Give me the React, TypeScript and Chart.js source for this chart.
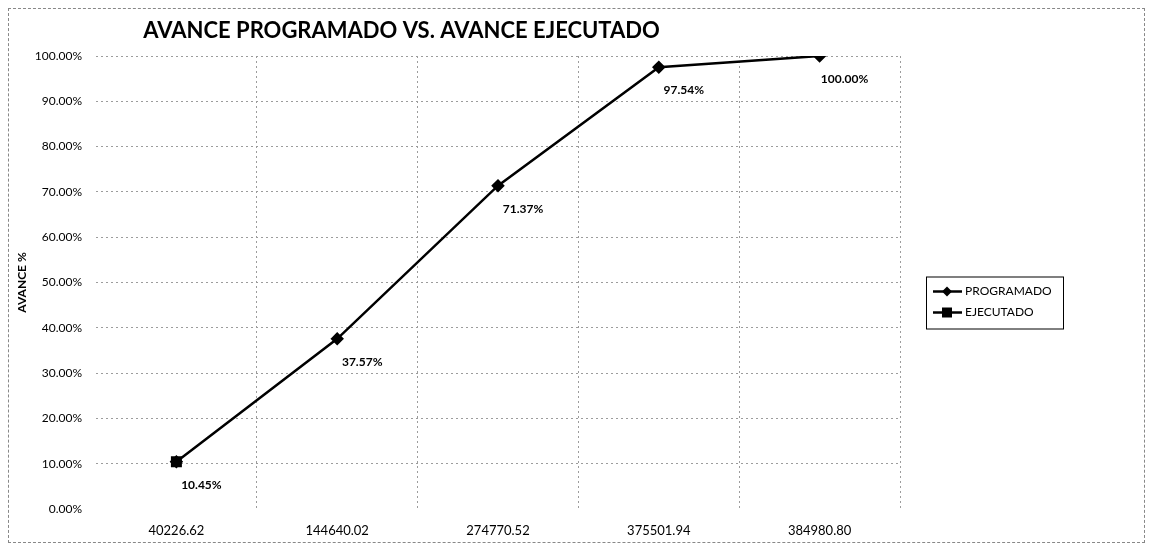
import React, { useEffect, useRef } from "react";
import { Chart, registerables } from "chart.js";

Chart.register(...registerables);

const chartTitle = "AVANCE PROGRAMADO VS. AVANCE EJECUTADO";
const yAxisTitle = "AVANCE %";
const categories = ["40226.62", "144640.02", "274770.52", "375501.94", "384980.80"];
const programado = [10.45, 37.57, 71.37, 97.54, 100.0];
const ejecutado: (number | null)[] = [10.45, null, null, null, null];
const seriesNames = ["PROGRAMADO", "EJECUTADO"];

const FONT = "Lato, 'Open Sans', 'DejaVu Sans', sans-serif";
const GRID = "#9c9c9c";

const titlePlugin = {
  id: "customTitle",
  afterDraw(chart: any) {
    const ctx = chart.ctx;
    const area = chart.chartArea;
    ctx.save();
    ctx.font = `bold 22px ${FONT}`;
    ctx.fillStyle = "#000";
    ctx.textAlign = "center";
    ctx.textBaseline = "middle";
    ctx.fillText(chartTitle, area.left + area.width * 0.38, 22);
    ctx.restore();
  },
};

const labelPlugin = {
  id: "pointLabels",
  afterDatasetsDraw(chart: any) {
    const ctx = chart.ctx;
    const meta = chart.getDatasetMeta(0);
    const data = chart.data.datasets[0].data;
    ctx.save();
    ctx.font = `bold 12px ${FONT}`;
    ctx.fillStyle = "#000";
    ctx.textAlign = "center";
    ctx.textBaseline = "middle";
    meta.data.forEach((pt: any, i: number) => {
      const v = data[i];
      if (v == null) return;
      ctx.fillText(`${Number(v).toFixed(2)}%`, pt.x + 25, pt.y + 23);
    });
    ctx.restore();
  },
};

const legendPlugin = {
  id: "boxedLegend",
  afterDraw(chart: any) {
    const ctx = chart.ctx;
    const area = chart.chartArea;
    const x0 = area.right + 26;
    const y0 = area.top + (area.bottom - area.top) / 2 - 6;
    const w = 137;
    const h = 52;
    ctx.save();
    ctx.strokeStyle = "#000";
    ctx.lineWidth = 1;
    ctx.strokeRect(x0 + 0.5, y0 + 0.5, w, h);
    ctx.font = `12px ${FONT}`;
    ctx.fillStyle = "#000";
    ctx.textBaseline = "middle";
    chart.data.datasets.forEach((ds: any, i: number) => {
      const yy = y0 + 15 + i * 21;
      ctx.beginPath();
      ctx.lineWidth = 2.5;
      ctx.strokeStyle = "#000";
      ctx.moveTo(x0 + 7, yy);
      ctx.lineTo(x0 + 36, yy);
      ctx.stroke();
      const cx = x0 + 21;
      ctx.beginPath();
      if (ds.pointStyle === "rectRot") {
        ctx.moveTo(cx, yy - 5);
        ctx.lineTo(cx + 5, yy);
        ctx.lineTo(cx, yy + 5);
        ctx.lineTo(cx - 5, yy);
        ctx.closePath();
      } else {
        ctx.rect(cx - 5, yy - 5, 10, 10);
      }
      ctx.fill();
      ctx.fillText(ds.label, x0 + 39, yy);
    });
    ctx.restore();
  },
};

export default function App() {
  const ref = useRef<HTMLCanvasElement | null>(null);
  useEffect(() => {
    if (!ref.current) return;
    const chart = new Chart(ref.current, {
      type: "line",
      data: {
        labels: categories,
        datasets: [
          {
            label: seriesNames[0],
            data: programado,
            borderColor: "#000",
            backgroundColor: "#000",
            borderWidth: 2.5,
            pointStyle: "rectRot",
            pointRadius: 5,
            pointBackgroundColor: "#000",
            pointBorderColor: "#000",
            tension: 0,
            order: 1,
          },
          {
            label: seriesNames[1],
            data: ejecutado,
            borderColor: "#000",
            backgroundColor: "#000",
            borderWidth: 2.5,
            pointStyle: "rect",
            pointRadius: 6,
            pointBackgroundColor: "#000",
            pointBorderColor: "#000",
            order: 0,
          },
        ],
      },
      options: {
        animation: false,
        responsive: true,
        maintainAspectRatio: false,
        layout: { padding: { top: 47, right: 244, bottom: 0, left: 0 } },
        plugins: {
          legend: { display: false },
          title: { display: false },
          tooltip: { enabled: false },
        },
        scales: {
          x: {
            offset: true,
            border: { display: false, dash: [2, 3] },
            grid: {
              offset: true,
              drawTicks: false,
              color: (c: any) => (c.index === 0 ? "rgba(0,0,0,0)" : GRID),
              lineWidth: 1,
            },
            ticks: {
              color: "#000",
              padding: 14,
              font: { family: FONT, size: 13 },
              maxRotation: 0,
            },
            afterFit: (scale: any) => {
              scale.height = 33;
            },
          },
          y: {
            min: 0,
            max: 100,
            border: { display: false, dash: [2, 3] },
            grid: {
              drawTicks: false,
              color: (c: any) => (c.tick && c.tick.value === 0 ? "rgba(0,0,0,0)" : GRID),
              lineWidth: 1,
            },
            ticks: {
              stepSize: 10,
              color: "#000",
              padding: 14,
              font: { family: FONT, size: 12 },
              callback: (v: any) => `${Number(v).toFixed(2)}%`,
            },
            title: {
              display: true,
              text: yAxisTitle,
              color: "#000",
              font: { family: FONT, size: 12, weight: "bold" },
              padding: { top: 6, bottom: 0 },
            },
            afterFit: (scale: any) => {
              scale.width = 87;
            },
          },
        },
      },
      plugins: [titlePlugin, labelPlugin, legendPlugin],
    });
    return () => chart.destroy();
  }, []);

  return (
    <div
      style={{
        width: 1135,
        height: 533,
        border: "1px dashed #888",
        position: "relative",
      }}
    >
      <canvas ref={ref} />
    </div>
  );
}
